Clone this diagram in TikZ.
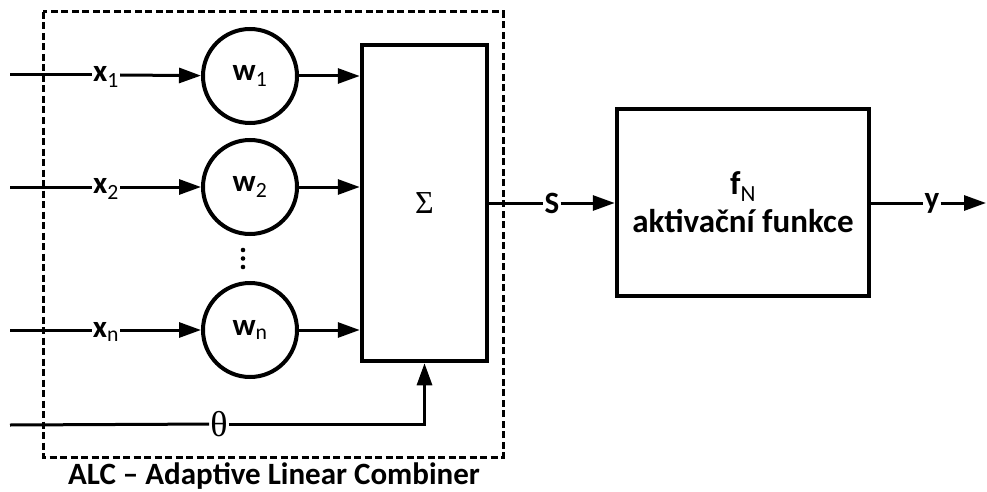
\documentclass[tikz,border=0pt]{standalone}
\usepackage{fontspec}
\setmainfont{Carlito}
\newfontfamily\symfont{Liberation Serif}
\usetikzlibrary{arrows.meta}

\tikzset{
  >={Triangle[length=22pt,width=15pt]},
  sig/.style={line width=3pt},
  lbl/.style={inner sep=1pt, font=\fontsize{31}{33}\selectfont\bfseries},
  vaha/.style={circle, draw, line width=4pt, minimum size=94pt, inner sep=0pt,
    font=\fontsize{31}{33}\selectfont\bfseries},
  blok/.style={rectangle, draw, line width=4.5pt, inner sep=0pt, align=center},
}
\newcommand{\idx}[1]{\textsubscript{\mdseries #1}}

\begin{document}
\begin{tikzpicture}[x=1pt, y=-1pt]
        \useasboundingbox (0,0) rectangle (987,492);

        % ALC (carkovany ramecek)
        \draw[line width=3pt, dash pattern=on 7pt off 3.5pt] (43,12) rectangle (503,457);
        \node[font=\fontsize{31}{33}\selectfont\bfseries] (alc) at (274,476) {ALC -- Adaptive Linear Combiner};

        % Vahy
        \node[vaha] (w1) at (250,76) {w\idx{1}};
        \node[vaha] (w2) at (250,187) {w\idx{2}};
        \node[vaha] (wn) at (250,330) {w\idx{n}};
        \foreach \yy in {250,258.5,267}
          \fill (243,\yy) circle (2.3pt);

        % Sumator a aktivacni funkce
        \node[blok, minimum width=125pt, minimum height=316pt,
              font=\symfont\fontsize{32}{34}\selectfont] (sum) at (424.5,203) {Σ};
        \node[blok, minimum width=252pt, minimum height=187pt,
              font=\fontsize{33}{36}\selectfont\bfseries] (act) at (743,202.5) {f\idx{N}\\[2pt]aktivační funkce};

        % Vstupy
        \coordinate (in1) at (10,75);
        \coordinate (in2) at (10,187);
        \coordinate (inn) at (10,330);
        \coordinate (in0) at (10,425);
        \node[lbl] (x1) at (106,77) {x\idx{1}};
        \node[lbl] (x2) at (106,189) {x\idx{2}};
        \node[lbl] (xn) at (106,332) {x\idx{n}};
        \node[inner sep=1pt, font=\symfont\fontsize{36}{38}\selectfont] (theta) at (219,424) {θ};

        \draw[sig] (in1) -- (in1 -| x1.west);
        \draw[sig, ->] (in1 -| x1.east) -- (w1);
        \draw[sig, ->] (w1) -- (w1 -| sum.west);
        \draw[sig] (in2) -- (in2 -| x2.west);
        \draw[sig, ->] (in2 -| x2.east) -- (w2);
        \draw[sig, ->] (w2) -- (w2 -| sum.west);
        \draw[sig] (inn) -- (inn -| xn.west);
        \draw[sig, ->] (inn -| xn.east) -- (wn);
        \draw[sig, ->] (wn) -- (wn -| sum.west);
        \draw[sig] (in0) -- (theta);
        \draw[sig, ->] (theta) -| (sum.south);

        % Vystup
        \node[lbl] (s) at (552,203) {S};
        \node[lbl] (y) at (932,203) {y};
        \coordinate (out) at (986,203);
        \draw[sig] (sum.east |- s) -- (s);
        \draw[sig, ->] (s) -- (act.west |- s);
        \draw[sig] (act.east |- y) -- (y);
        \draw[sig, ->] (y) -- (out);

\end{tikzpicture}
\end{document}
